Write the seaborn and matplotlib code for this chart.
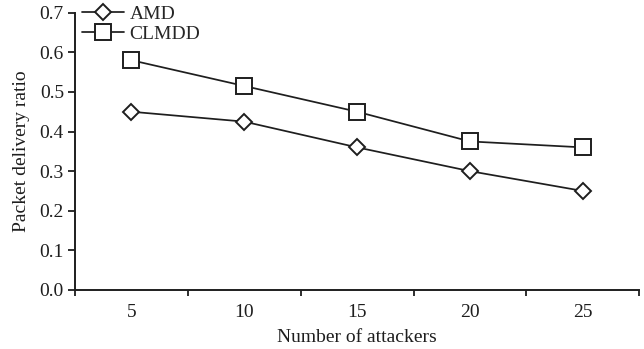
import pandas as pd
import matplotlib
matplotlib.use("Agg")
import matplotlib.pyplot as plt
import seaborn as sns

# values
attackers = ["5", "10", "15", "20", "25"]
amd = [0.45, 0.425, 0.36, 0.3, 0.25]
clmdd = [0.58, 0.515, 0.45, 0.375, 0.36]

df = pd.DataFrame({
    "Attackers": attackers * 2,
    "Ratio": amd + clmdd,
    "Scheme": ["AMD"] * len(amd) + ["CLMDD"] * len(clmdd),
})

sns.set_style("ticks")
plt.rcParams["font.family"] = ["Liberation Serif", "DejaVu Serif"]

fig = plt.figure(figsize=(6.44, 3.49), dpi=100)
ax = fig.add_axes([0.1165, 0.1691, 0.8762, 0.7945])

ink = "#1e1e1e"
fs = 14
sizes = {"D": 7.8, "s": 11.5}

sns.lineplot(data=df, x="Attackers", y="Ratio", style="Scheme",
             markers={"AMD": "D", "CLMDD": "s"}, dashes=False,
             color=ink, linewidth=1.25, ax=ax,
             markerfacecolor="white", markeredgecolor=ink, markeredgewidth=1.4,
             sort=False)

for line in ax.get_lines():
    if line.get_marker() in sizes:
        line.set_markersize(sizes[line.get_marker()])

ax.set_xlim(-0.5, len(attackers) - 0.5)
ax.set_ylim(0, 0.7)
ax.set_yticks([0.0, 0.1, 0.2, 0.3, 0.4, 0.5, 0.6, 0.7])
ax.set_yticklabels([f"{v:.1f}" for v in ax.get_yticks()])

# ticks sit on the category boundaries, labels in the middle
ax.set_xticks([i - 0.5 for i in range(len(attackers) + 1)], minor=True)
ax.tick_params(axis="x", which="major", length=0, pad=10, labelsize=fs, colors=ink)
ax.tick_params(axis="x", which="minor", length=4.5, width=1.3, direction="out", color=ink)
ax.tick_params(axis="y", length=5, width=1.3, direction="out", pad=3, labelsize=fs, colors=ink)

sns.despine(ax=ax)
for s in ["left", "bottom"]:
    ax.spines[s].set_linewidth(1.4)
    ax.spines[s].set_color(ink)

ax.set_xlabel("Number of attackers", fontsize=fs, color=ink, labelpad=6)
ax.set_ylabel("Packet delivery ratio", fontsize=fs, color=ink, labelpad=7)

handles, labels = ax.get_legend_handles_labels()
for h in handles:
    h.set_markerfacecolor("white")
    h.set_markeredgecolor(ink)
    h.set_color(ink)
    h.set_linewidth(1.25)
    h.set_markeredgewidth(1.4)
    h.set_markersize(sizes[h.get_marker()])
ax.legend(handles, labels, loc="upper left", bbox_to_anchor=(0.012, 1.026),
          frameon=False, fontsize=fs, handlelength=2.15, handletextpad=0.3,
          labelspacing=0.1, borderaxespad=0, borderpad=0)

fig.savefig("out.png", dpi=100)
